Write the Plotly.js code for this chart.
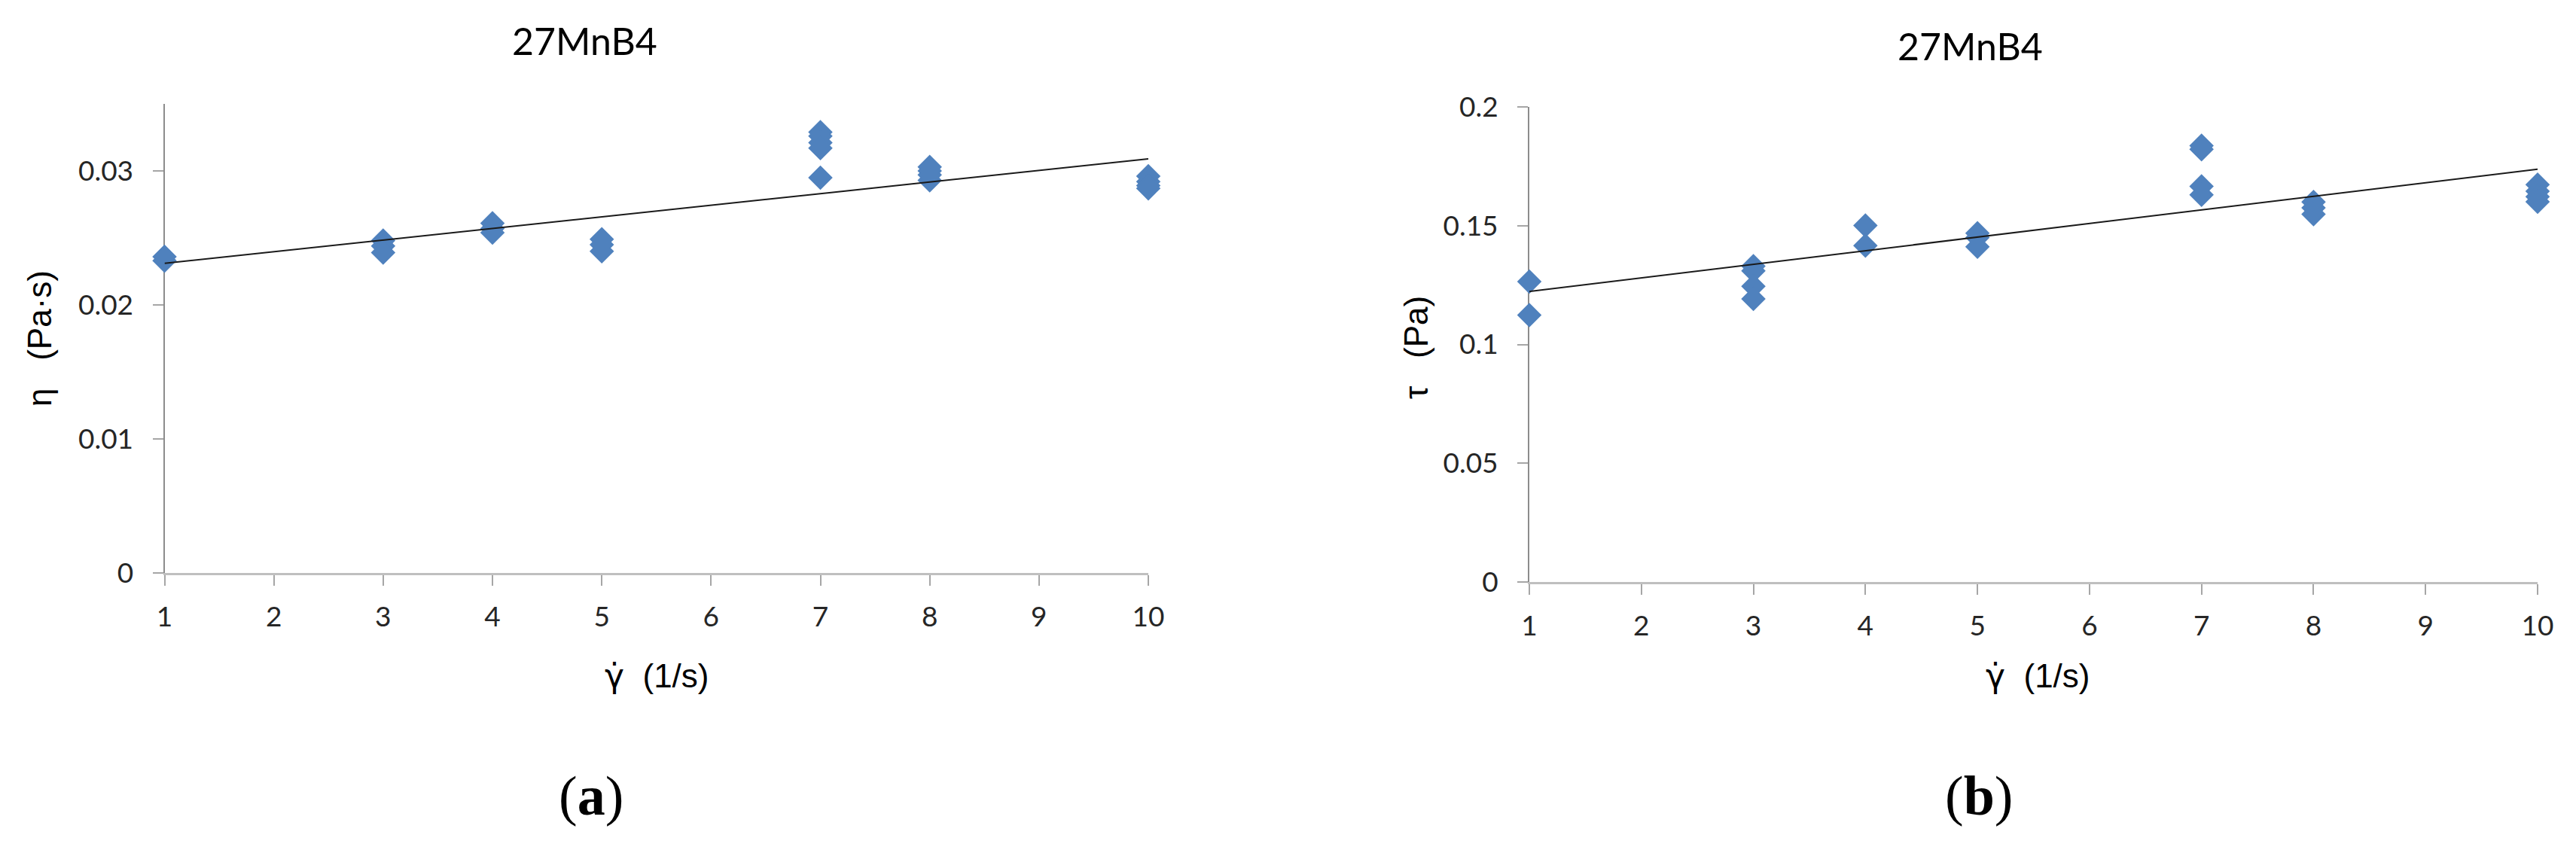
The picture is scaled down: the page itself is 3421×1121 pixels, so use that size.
<!DOCTYPE html>
<html>
<head>
<meta charset="utf-8">
<script src="https://cdn.plot.ly/plotly-3.0.1.min.js"></script>
<style>
  html, body { margin: 0; padding: 0; background: #fff; }
  #rheoGraph { width: 3421px; height: 1121px; }
</style>
</head>
<body>
<div id="rheoGraph"></div>
<script>
// Data
const shearRateEta = [1, 1, 3, 3, 3, 4, 4, 4, 5, 5, 5, 7, 7, 7, 7, 7, 8, 8, 8, 8, 10, 10, 10, 10];
const viscosity = [0.0236, 0.0233, 0.0248, 0.0244, 0.0239, 0.0261, 0.0257, 0.0254, 0.0249, 0.0245, 0.0240,
    0.0329, 0.0326, 0.0321, 0.0317, 0.0295, 0.0303, 0.0300, 0.0297, 0.0293, 0.0296, 0.0292, 0.0289, 0.0287];

const shearRateTau = [1, 1, 3, 3, 3, 3, 4, 4, 5, 5, 5, 7, 7, 7, 7, 8, 8, 8, 10, 10, 10, 10];
const shearStress = [0.1265, 0.1124, 0.1330, 0.1310, 0.1245, 0.1192, 0.1501, 0.1416, 0.1468, 0.1450, 0.1411,
    0.1837, 0.1822, 0.1666, 0.1630, 0.1600, 0.1575, 0.1548, 0.1673, 0.1645, 0.1622, 0.1601];

// Linear trendlines (end values)
const trendRate = [1, 10];
const viscosityTrend = [0.0231, 0.0309];
const stressTrend = [0.1223, 0.1738];

// Tick labels
const rateTicks = [1, 2, 3, 4, 5, 6, 7, 8, 9, 10];
const etaTicks = [0, 0.01, 0.02, 0.03];
const etaTickText = ['0', '0.01', '0.02', '0.03'];
const tauTicks = [0, 0.05, 0.1, 0.15, 0.2];
const tauTickText = ['0', '0.05', '0.1', '0.15', '0.2'];

const W = 3421;
const H = 1121;
const markerBlue = '#4f81bd';
const tickFont = { family: 'Lato, "Open Sans", sans-serif', size: 37, color: '#262626' };
const axisTitleFont = { family: '"Liberation Sans", Arial, sans-serif', size: 44, color: '#000' };

// gamma-dot: DejaVu places the combining dot properly over the gamma
const gammaDot = '<span style="font-family:\'DejaVu Sans\'">\u03b3\u0307</span>';

// pixel helpers for the layout
function px(x) { return x / W; }
function py(y) { return (H - y) / H; }

function pointTrace(x, y, xa, ya) {
    return {
        x: x, y: y, xaxis: xa, yaxis: ya,
        type: 'scatter', mode: 'markers', cliponaxis: false,
        marker: { symbol: 'diamond', size: 25, color: markerBlue, line: { width: 0 } },
        hoverinfo: 'x+y'
    };
}

function trendTrace(x, y, xa, ya) {
    return {
        x: x, y: y, xaxis: xa, yaxis: ya,
        type: 'scatter', mode: 'lines', cliponaxis: false,
        line: { color: '#1a1a1a', width: 2 },
        hoverinfo: 'skip'
    };
}

var data = [
    pointTrace(shearRateEta, viscosity, 'x', 'y'),
    trendTrace(trendRate, viscosityTrend, 'x', 'y'),
    pointTrace(shearRateTau, shearStress, 'x2', 'y2'),
    trendTrace(trendRate, stressTrend, 'x2', 'y2')
];

function xAxis(domain, anchor) {
    return {
        domain: domain, anchor: anchor, range: [1, 10],
        tickvals: rateTicks, ticktext: rateTicks.map(String),
        showline: true, linecolor: '#bfbfbf', linewidth: 3,
        ticks: 'outside', ticklen: 14, tickwidth: 2, tickcolor: '#a6a6a6',
        ticklabelstandoff: 10,
        showgrid: false, zeroline: false, layer: 'below traces',
        tickfont: tickFont, fixedrange: true
    };
}

function yAxis(domain, anchor, range, vals, text) {
    return {
        domain: domain, anchor: anchor, range: range,
        tickvals: vals, ticktext: text,
        showline: true, linecolor: '#8c8c8c', linewidth: 2,
        ticks: 'outside', ticklen: 14, tickwidth: 2, tickcolor: '#a6a6a6',
        ticklabelstandoff: 18,
        showgrid: false, zeroline: false, layer: 'below traces',
        tickfont: tickFont, fixedrange: true
    };
}

function label(text, x, y, font, angle) {
    return {
        text: text, xref: 'paper', yref: 'paper', x: px(x), y: py(y),
        xanchor: 'center', yanchor: 'middle', showarrow: false,
        textangle: angle || 0, font: font
    };
}

const titleFont = { family: 'Lato, "Open Sans", sans-serif', size: 50, color: '#000' };
const panelFont = { family: '"Liberation Serif", "Times New Roman", serif', size: 74, color: '#000' };

var layout = {
    width: W, height: H,
    margin: { l: 0, r: 0, t: 0, b: 0 },
    paper_bgcolor: '#fff', plot_bgcolor: 'rgba(0,0,0,0)',
    showlegend: false,
    xaxis: xAxis([px(218.5), px(1525)], 'y'),
    yaxis: yAxis([py(761), py(138)], 'x', [0, 0.035], etaTicks, etaTickText),
    xaxis2: xAxis([px(2031), px(3370)], 'y2'),
    yaxis2: yAxis([py(773), py(142)], 'x2', [0, 0.2], tauTicks, tauTickText),
    annotations: [
        label('27MnB4', 776, 54, titleFont),
        label('27MnB4', 2616, 61, titleFont),
        label(gammaDot + '\u00a0\u00a0(1/s)', 873, 897, axisTitleFont),
        label(gammaDot + '\u00a0\u00a0(1/s)', 2706, 897, axisTitleFont),
        label('\u03b7\u00a0\u00a0\u00a0(Pa\u00b7s)', 52, 450, axisTitleFont, -90),
        label('\u03c4\u00a0\u00a0\u00a0(Pa)', 1880, 462, axisTitleFont, -90),
        label('(<b>a</b>)', 785, 1057, panelFont),
        label('(<b>b</b>)', 2628, 1057, panelFont)
    ]
};

document.addEventListener('DOMContentLoaded', function() {
    Plotly.newPlot('rheoGraph', data, layout, { staticPlot: true, displayModeBar: false });
});
</script>
</body>
</html>
